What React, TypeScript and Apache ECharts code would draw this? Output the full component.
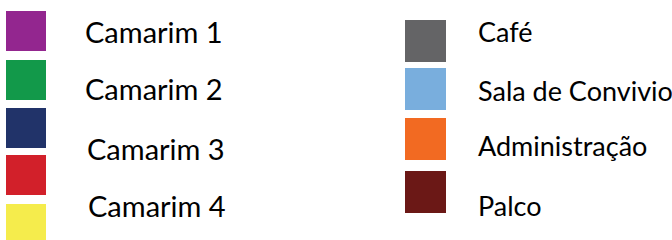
import React, { useEffect, useRef } from "react";
import * as echarts from "echarts";

const leftNames = ["Camarim 1", "Camarim 2", "Camarim 3", "Camarim 4", " "];
const leftColors = ["#93268F", "#12994A", "#213369", "#D2202A", "#F5EC4C"];
const rightNames = ["Café", "Sala de Convivio", "Administração", "Palco"];
const rightColors = ["#646466", "#79AEDD", "#F26A22", "#6B1816"];

// layout (px)
const leftTops = [11, 60, 108, 155, 204];
const leftTextDy = [0, 8, 20, 30, 0];
const leftTextDx = [34, 34, 36, 37, 34];
const rightTops = [18, 68, 118, 171];
const rightTextDy = [-9.5, 1, 6.5, 13];

const FONT = "Lato";

function pad(dy: number, left: number): number[] {
  return dy >= 0 ? [dy * 2, 0, 0, left] : [0, 0, -dy * 2, left];
}

export default function App() {
  const ref = useRef<HTMLDivElement>(null);
  useEffect(() => {
    if (!ref.current) return;
    const chart = echarts.init(ref.current, undefined, { renderer: "svg" });
    const names = [...leftNames, ...rightNames];
    const colors = [...leftColors, ...rightColors];
    const legends: any[] = [];
    leftNames.forEach((n, i) => {
      legends.push({
        data: [n],
        left: 6,
        top: leftTops[i],
        padding: 0,
        icon: "rect",
        itemWidth: 40,
        itemHeight: 40,
        selectedMode: false,
        formatter: "{t|{name}}",
        textStyle: {
          rich: {
            t: { fontFamily: FONT, fontSize: 29, color: "#000", padding: pad(leftTextDy[i], leftTextDx[i]) },
          },
        },
      });
    });
    rightNames.forEach((n, i) => {
      legends.push({
        data: [n],
        left: 405,
        top: rightTops[i],
        padding: 0,
        icon: "rect",
        itemWidth: 41,
        itemHeight: 42,
        selectedMode: false,
        formatter: "{t|{name}}",
        textStyle: {
          rich: {
            t: { fontFamily: FONT, fontSize: 27, color: "#000", padding: pad(rightTextDy[i], 27) },
          },
        },
      });
    });
    chart.setOption({
      animation: false,
      backgroundColor: "#fff",
      grid: { show: false, left: 0, top: 0, width: 1, height: 1 },
      xAxis: { type: "category", show: false, data: [] },
      yAxis: { type: "value", show: false },
      legend: legends,
      series: names.map((n, i) => ({
        type: "bar",
        name: n,
        data: [],
        itemStyle: { color: colors[i] },
      })),
    });
    return () => chart.dispose();
  }, []);
  return <div ref={ref} style={{ position: "fixed", left: 0, top: 0, width: 672, height: 240 }} />;
}
